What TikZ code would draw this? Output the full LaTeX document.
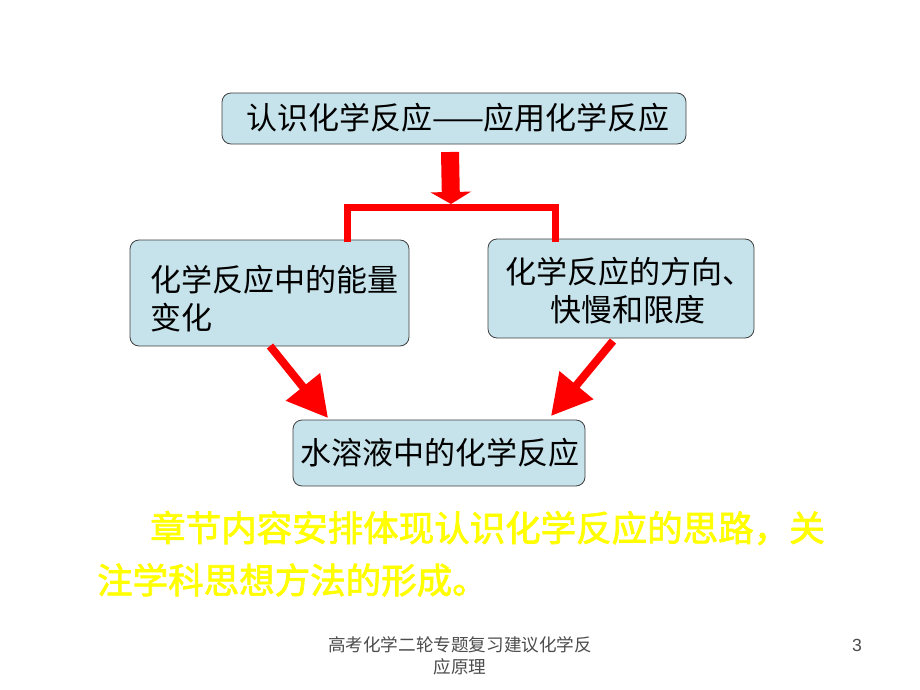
\documentclass[tikz,border=0pt]{standalone}
\usepackage{fontspec}
\setmainfont{Liberation Sans}
\newfontfamily\cjk{Noto Sans CJK SC}
\newfontfamily\cjkb[FakeBold=2]{Noto Sans CJK SC}
\usetikzlibrary{arrows.meta}
\definecolor{boxfill}{HTML}{C6E2EA}
\definecolor{arrred}{HTML}{FF0000}
\definecolor{ylw}{HTML}{FFFF00}
\tikzset{
  box/.style={draw=black!75, line width=0.8pt, fill=boxfill, rounded corners=9pt},
  btxt/.style={font=\cjk\fontsize{31}{36}\selectfont, anchor=west, inner sep=0},
  redarrow/.style={arrred, line width=8pt, -{Triangle[length=40pt,width=42pt]}},
  redline/.style={arrred, line width=7pt},
  ytxt/.style={font=\cjkb\fontsize{35.5}{40}\selectfont, text=ylw, anchor=west, inner sep=0},
  foot/.style={font=\cjk\fontsize{17.6}{20}\selectfont, text=black!70, inner sep=0}
}
\begin{document}
\begin{tikzpicture}[x=1pt,y=-1pt]
\useasboundingbox (0,0) rectangle (920,690);
\fill[white] (0,0) rectangle (920,690);
% boxes
\draw[box] (222,93) rectangle (686,144);
\node[btxt, anchor=center] (top) at (458,118) {认识化学反应——应用化学反应};
\draw[box] (130,240) rectangle (409,346);
\node[btxt] (l1) at (150,280) {化学反应中的能量};
\node[btxt] (l2) at (150,318) {变化};
\draw[box] (488,239) rectangle (754,338);
\node[btxt] (r1) at (505,272) {化学反应的方向、};
\node[btxt] (r2) at (550,310) {快慢和限度};
\draw[box] (293,420) rectangle (585,486);
\node[btxt, anchor=center] (bot) at (440,453) {水溶液中的化学反应};
% top arrow and bracket
\coordinate (ta) at (450,152);
\coordinate (tb) at (451,204);
\draw[arrred, line width=18pt, -{Triangle[length=12pt,width=40pt]}] (ta) -- (tb);
\coordinate (bl) at (347,242);
\coordinate (br) at (555,242);
\draw[redline, line join=miter] (bl) -- (347,207) -- (555,207) -- (br);
% diagonal arrows
\coordinate (la) at (270,346);
\coordinate (lb) at (328,418);
\draw[redarrow] (la) -- (lb);
\coordinate (ra) at (613,341);
\coordinate (rb) at (551,416);
\draw[redarrow] (ra) -- (rb);
% yellow text
\node[ytxt] (y1) at (150,528) {章节内容安排体现认识化学反应的思路，关};
\node[ytxt] (y2) at (97,580) {注学科思想方法的形成。};
% footer
\node[foot] (f1) at (460,645) {高考化学二轮专题复习建议化学反};
\node[foot] (f2) at (460,667) {应原理};
\node[foot, font=\fontsize{17.6}{20}\selectfont] (pg) at (857,645) {3};
\end{tikzpicture}
\end{document}
